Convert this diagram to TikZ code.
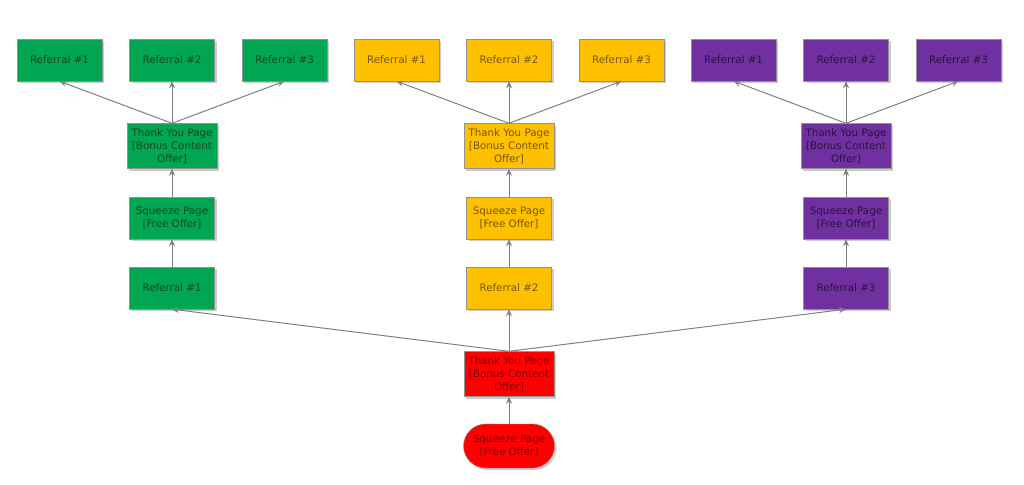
\documentclass[tikz,border=0pt]{standalone}
\usepackage{fontspec}
\setmainfont{DejaVu Sans}
\usetikzlibrary{shapes.geometric, arrows.meta, shadows}
\definecolor{FunGreen}{HTML}{00A651}
\definecolor{FunGreenTxt}{HTML}{0E4A22}
\definecolor{FunYellow}{HTML}{FFC000}
\definecolor{FunYellowTxt}{HTML}{76570A}
\definecolor{FunPurple}{HTML}{7030A0}
\definecolor{FunPurpleTxt}{HTML}{2C1240}
\definecolor{FunRed}{HTML}{FF0000}
\definecolor{FunRedTxt}{HTML}{7A0000}
\tikzstyle{pagebox} = [rectangle, minimum width=85pt, minimum height=42pt, inner sep=1pt, text centered, align=center, draw=gray!85, drop shadow={shadow xshift=2pt, shadow yshift=-2pt, fill=black!40}, font=\fontsize{10.3}{13}\selectfont]
\tikzstyle{thanks} = [pagebox, minimum width=90pt, minimum height=45pt]
\tikzstyle{squeezestart} = [pagebox, rounded corners=22pt, minimum width=91pt, minimum height=44pt]
\tikzstyle{green} = [fill=FunGreen, text=FunGreenTxt]
\tikzstyle{yellow} = [fill=FunYellow, text=FunYellowTxt]
\tikzstyle{purple} = [fill=FunPurple, text=FunPurpleTxt]
\tikzstyle{red} = [fill=FunRed, text=FunRedTxt]
\tikzstyle{arrow} = [draw=gray, line width=1pt, -{Stealth[length=7pt,width=6pt]}]

\begin{document}
\begin{tikzpicture}[node distance=72pt]
\useasboundingbox (0,0) rectangle (1024pt,-484pt);

\node (sq0) [squeezestart, red] at (509pt,-446pt) {Squeeze Page\\{}[Free Offer]};
\node (ty0) [thanks, red, above of=sq0] {Thank You Page\\{}[Bonus Content\\Offer]};

% first level referrals
\node (ref1) [pagebox, green, above of=ty0, yshift=14pt, xshift=-337pt] {Referral \#1};
\node (ref2) [pagebox, yellow, above of=ty0, yshift=14pt] {Referral \#2};
\node (ref3) [pagebox, purple, above of=ty0, yshift=14pt, xshift=337pt] {Referral \#3};

\node (sq1) [pagebox, green, above of=ref1, yshift=-2pt] {Squeeze Page\\{}[Free Offer]};
\node (sq2) [pagebox, yellow, above of=ref2, yshift=-2pt] {Squeeze Page\\{}[Free Offer]};
\node (sq3) [pagebox, purple, above of=ref3, yshift=-2pt] {Squeeze Page\\{}[Free Offer]};

\node (ty1) [thanks, green, above of=sq1] {Thank You Page\\{}[Bonus Content\\Offer]};
\node (ty2) [thanks, yellow, above of=sq2] {Thank You Page\\{}[Bonus Content\\Offer]};
\node (ty3) [thanks, purple, above of=sq3] {Thank You Page\\{}[Bonus Content\\Offer]};

% second level referrals
\node (ref11) [pagebox, green, above of=ty1, yshift=14pt, xshift=-112.5pt] {Referral \#1};
\node (ref12) [pagebox, green, above of=ty1, yshift=14pt] {Referral \#2};
\node (ref13) [pagebox, green, above of=ty1, yshift=14pt, xshift=112.5pt] {Referral \#3};

\node (ref21) [pagebox, yellow, above of=ty2, yshift=14pt, xshift=-112.5pt] {Referral \#1};
\node (ref22) [pagebox, yellow, above of=ty2, yshift=14pt] {Referral \#2};
\node (ref23) [pagebox, yellow, above of=ty2, yshift=14pt, xshift=112.5pt] {Referral \#3};

\node (ref31) [pagebox, purple, above of=ty3, yshift=14pt, xshift=-112.5pt] {Referral \#1};
\node (ref32) [pagebox, purple, above of=ty3, yshift=14pt] {Referral \#2};
\node (ref33) [pagebox, purple, above of=ty3, yshift=14pt, xshift=112.5pt] {Referral \#3};


\draw [arrow] (sq0) -- (ty0);
\draw [arrow] (ty0.north) -- (ref1.south);
\draw [arrow] (ty0.north) -- (ref2.south);
\draw [arrow] (ty0.north) -- (ref3.south);

\draw [arrow] (ref1) -- (sq1);
\draw [arrow] (ref2) -- (sq2);
\draw [arrow] (ref3) -- (sq3);
\draw [arrow] (sq1) -- (ty1);
\draw [arrow] (sq2) -- (ty2);
\draw [arrow] (sq3) -- (ty3);

\draw [arrow] (ty1.north) -- (ref11.south);
\draw [arrow] (ty1.north) -- (ref12.south);
\draw [arrow] (ty1.north) -- (ref13.south);
\draw [arrow] (ty2.north) -- (ref21.south);
\draw [arrow] (ty2.north) -- (ref22.south);
\draw [arrow] (ty2.north) -- (ref23.south);
\draw [arrow] (ty3.north) -- (ref31.south);
\draw [arrow] (ty3.north) -- (ref32.south);
\draw [arrow] (ty3.north) -- (ref33.south);

\end{tikzpicture}
\end{document}
